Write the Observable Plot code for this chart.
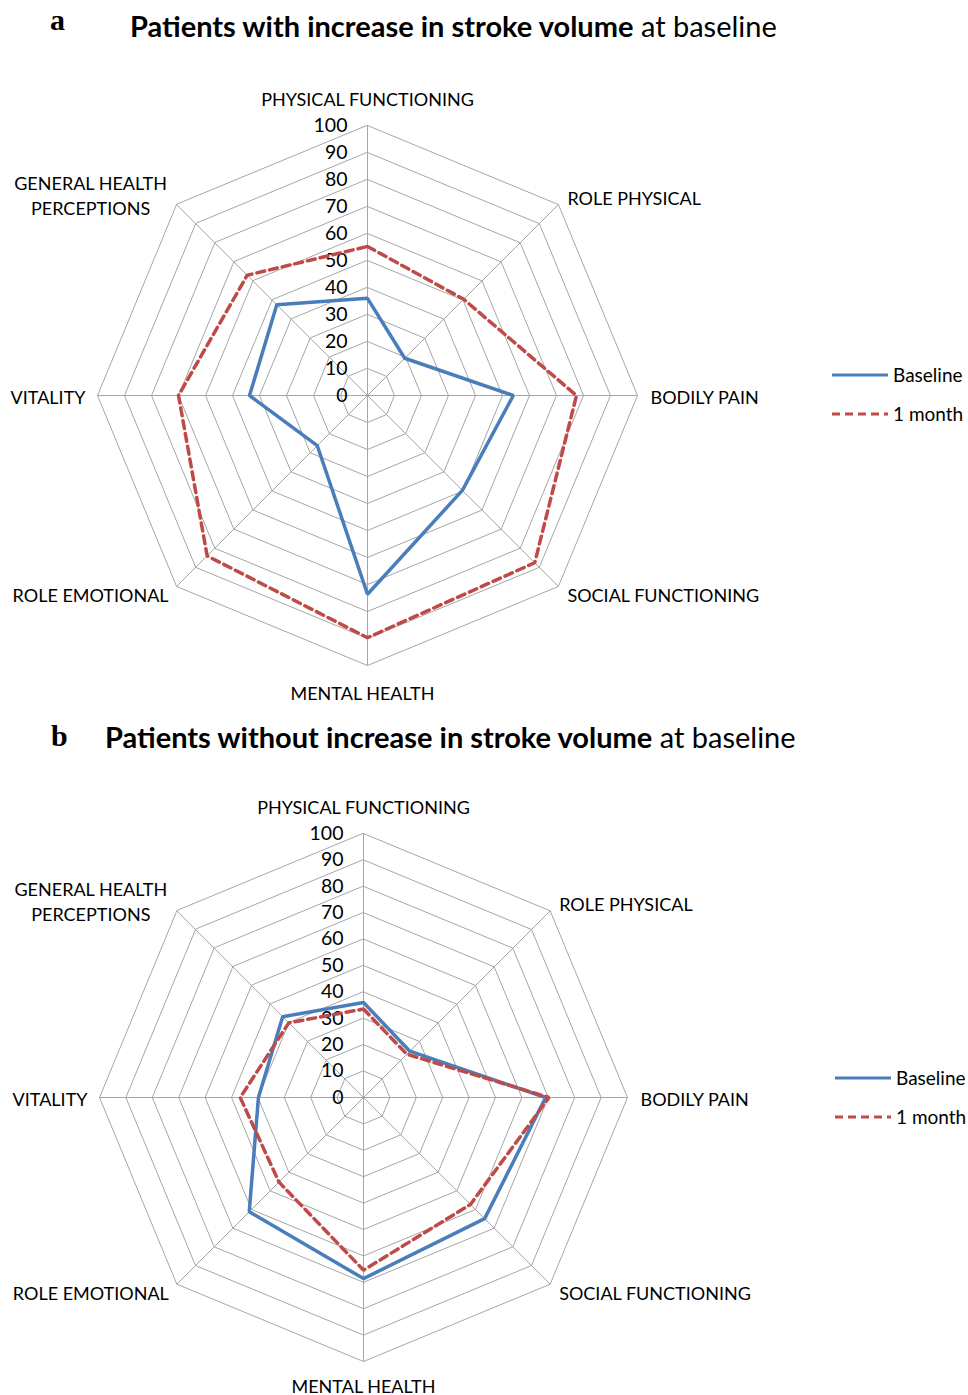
<!DOCTYPE html>
<html><head><meta charset="utf-8">
<script src="https://cdn.jsdelivr.net/npm/d3@7"></script>
<script src="https://cdn.jsdelivr.net/npm/@observablehq/plot@0.6"></script>
<style>
body{margin:0;background:#fff;width:968px;height:1395px;position:relative;overflow:hidden;font-family:Lato,"Open Sans",sans-serif;color:#000;}
.panel{position:absolute;left:0;width:968px;}
.letter{position:absolute;font-family:"Liberation Serif",serif;font-weight:bold;font-size:30px;line-height:1;}
.title{position:absolute;font-size:29px;white-space:nowrap;line-height:1;}
.title b{font-weight:bold}
.legend{position:absolute;font-size:19px;line-height:1;white-space:nowrap;}
.legend div{position:relative;height:39px;width:140px;}
.legend svg{position:absolute;left:0;top:0;}
.legend span{position:absolute;left:61px;top:-10px;white-space:nowrap;}
</style></head><body>
<script>
// ---- data ----
const axes = ["PHYSICAL FUNCTIONING","ROLE PHYSICAL","BODILY PAIN","SOCIAL FUNCTIONING","MENTAL HEALTH","ROLE EMOTIONAL","VITALITY","GENERAL HEALTH\nPERCEPTIONS"];
const ticks = [0,10,20,30,40,50,60,70,80,90,100];
const seriesNames = ["Baseline","1 month"];
const titlesBold = ["Patients with increase in stroke volume","Patients without increase in stroke volume"];
const titlesRest = [" at baseline"," at baseline"];
const panelLetters = ["a","b"];
const aBaseline = [36,19.5,54,49.7,73.6,26.3,43.7,47.5];
const aMonth    = [55.2,50.4,77.4,87.6,89.7,84,70,63];
const bBaseline = [36,24.8,69,64.9,68.6,61.2,39.8,43.3];
const bMonth    = [33.5,23.2,70.3,57.3,65.4,45.3,46.7,40];

const colors = {"Baseline":"#4a7ebb","1 month":"#be4b48"};
const dashes = {"Baseline":null,"1 month":"8,5"};

const ang = i => i * Math.PI / 4;
const px = (r,i) => r * Math.sin(ang(i));
const py = (r,i) => r * Math.cos(ang(i));

function radar(cfg){
  const {baseline, month, cx, cy, R, width, height, mhDx, mhDy} = cfg;
  const rows = [];
  [[seriesNames[0], baseline],[seriesNames[1], month]].forEach(([s, vals]) => {
    vals.forEach((v,i) => rows.push({series:s, axis:axes[i], i, v}));
  });
  const rings = [];
  ticks.filter(t => t > 0).forEach(t => axes.forEach((a,i) => rings.push({t, i})));
  const spokes = axes.map((a,i) => ({axis:a, i}));
  const lab = idx => spokes.filter(d => d.i === idx);
  const txt = (idx, o) => Plot.text(lab(idx), {x: d => px(100,d.i), y: d => py(100,d.i), text: "axis",
      fontSize: 18, fill: "#000", lineHeight: 1.4, ...o});
  return Plot.plot({
    width, height, margin: 0,
    style: {fontFamily: "Lato, 'Open Sans', sans-serif", background: "#fff", overflow: "visible"},
    x: {type: "linear", domain: [-100,100], range: [cx - R, cx + R], axis: null},
    y: {type: "linear", domain: [-100,100], range: [cy + R, cy - R], axis: null},
    marks: [
      Plot.line(rings, {x: d => px(d.t,d.i), y: d => py(d.t,d.i), z: "t", curve: "linear-closed", stroke: "#a6a6a6", strokeWidth: 1}),
      Plot.link(spokes, {x1: 0, y1: 0, x2: d => px(100,d.i), y2: d => py(100,d.i), stroke: "#a6a6a6", strokeWidth: 1}),
      Plot.text(ticks, {x: 0, y: d => d, text: d => String(d), textAnchor: "end", dx: -20, fontSize: 19.5, fill: "#000"}),
      ...seriesNames.map(s => Plot.line(rows.filter(r => r.series === s), {
        x: d => px(d.v,d.i), y: d => py(d.v,d.i), curve: "linear-closed",
        stroke: colors[s], strokeWidth: 3.5, strokeDasharray: dashes[s], strokeLinejoin: "miter"})),
      txt(0, {textAnchor: "middle", dy: -28}),
      txt(1, {textAnchor: "start", dx: 9, dy: -8}),
      txt(2, {textAnchor: "start", dx: 13}),
      txt(3, {textAnchor: "start", dx: 9, dy: 8}),
      txt(4, {textAnchor: "middle", dx: mhDx, dy: mhDy}),
      txt(5, {textAnchor: "end", dx: -8, dy: 8}),
      txt(6, {textAnchor: "end", dx: -12}),
      txt(7, {textAnchor: "middle", dx: -86, dy: -10})
    ]
  });
}

const panels = [
  {top: 60, height: 660, cx: 367, cy: 335, R: 270, baseline: aBaseline, month: aMonth, mhDx: -5, mhDy: 26,
   letter: {left: 50, top: 5}, title: {left: 130, top: 11}, legend: {left: 832, top: 375}},
  {top: 770, height: 625, cx: 363, cy: 327, R: 264, baseline: bBaseline, month: bMonth, mhDx: 0, mhDy: 23,
   letter: {left: 51, top: 721}, title: {left: 105, top: 722}, legend: {left: 835, top: 1078}}
];

panels.forEach((p, k) => {
  const L = document.createElement("div");
  L.className = "letter"; L.textContent = panelLetters[k];
  L.style.left = p.letter.left + "px"; L.style.top = p.letter.top + "px";
  document.body.appendChild(L);
  const T = document.createElement("div");
  T.className = "title";
  const b = document.createElement("b"); b.textContent = titlesBold[k];
  T.appendChild(b); T.appendChild(document.createTextNode(titlesRest[k]));
  T.style.left = p.title.left + "px"; T.style.top = p.title.top + "px";
  document.body.appendChild(T);
  const P = document.createElement("div");
  P.className = "panel"; P.style.top = p.top + "px";
  P.appendChild(radar({baseline: p.baseline, month: p.month, cx: p.cx, cy: p.cy, R: p.R, width: 968, height: p.height, mhDx: p.mhDx, mhDy: p.mhDy}));
  document.body.appendChild(P);
  const G = document.createElement("div");
  G.className = "legend"; G.style.left = p.legend.left + "px"; G.style.top = p.legend.top + "px";
  seriesNames.forEach(s => {
    const row = document.createElement("div");
    const dash = dashes[s] ? ` stroke-dasharray="${dashes[s]}"` : "";
    row.innerHTML = `<svg width="58" height="4" style="top:-2px"><line x1="0" y1="2" x2="56" y2="2" stroke="${colors[s]}" stroke-width="3"${dash}/></svg><span>${s}</span>`;
    G.appendChild(row);
  });
  document.body.appendChild(G);
});
</script>
</body></html>
